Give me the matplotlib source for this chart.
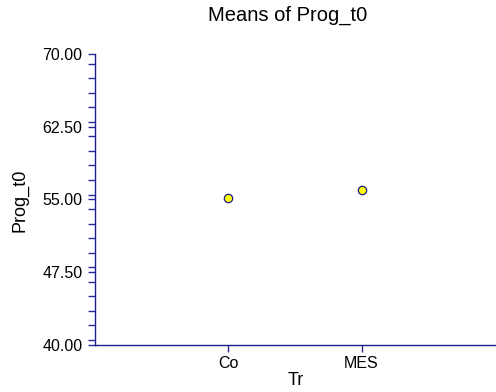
import numpy as np
import matplotlib
matplotlib.use("Agg")
import matplotlib.pyplot as plt
from matplotlib.ticker import MultipleLocator, FormatStrFormatter

plt.rcParams["font.family"] = ["Liberation Sans", "DejaVu Sans"]

groups = ["Co", "MES"]
means = [55.15, 56.0]
y_ticks = [40.0, 47.5, 55.0, 62.5, 70.0]

navy = "#1c1c8a"
tick_blue = "#2a2a9a"

fig = plt.figure(figsize=(4.96, 3.92), dpi=100)
ax = fig.add_axes([0.1915, 0.1207, 0.806, 0.7415])

x = np.arange(1, len(groups) + 1)
ax.plot(x, means, linestyle="none", marker="o", markersize=6,
        markerfacecolor="#ffff00", markeredgecolor=navy, markeredgewidth=0.9,
        clip_on=False)

ax.set_xlim(0, len(groups) + 1)
ax.set_ylim(40, 70)
ax.set_xticks(x)
ax.set_xticklabels(groups)
ax.set_yticks(y_ticks)
ax.yaxis.set_major_formatter(FormatStrFormatter("%.2f"))
ax.yaxis.set_minor_locator(MultipleLocator(1.5))

for side in ["top", "right"]:
    ax.spines[side].set_visible(False)
for side in ["left", "bottom"]:
    ax.spines[side].set_color(navy)
    ax.spines[side].set_linewidth(1.0)

ax.tick_params(axis="both", which="both", direction="out", color=tick_blue,
               width=1.0, length=5, labelsize=11.5, labelcolor="black")
ax.tick_params(axis="y", which="both", pad=4)
ax.tick_params(axis="x", pad=3)

fig.text(0.579, 0.962, "Means of Prog_t0", ha="center", va="center", fontsize=14.5)
fig.text(0.04, 0.49, "Prog_t0", ha="center", va="center", rotation=90, fontsize=13)
fig.text(0.597, 0.03, "Tr", ha="center", va="center", fontsize=13)

fig.savefig("out.png", dpi=100)
